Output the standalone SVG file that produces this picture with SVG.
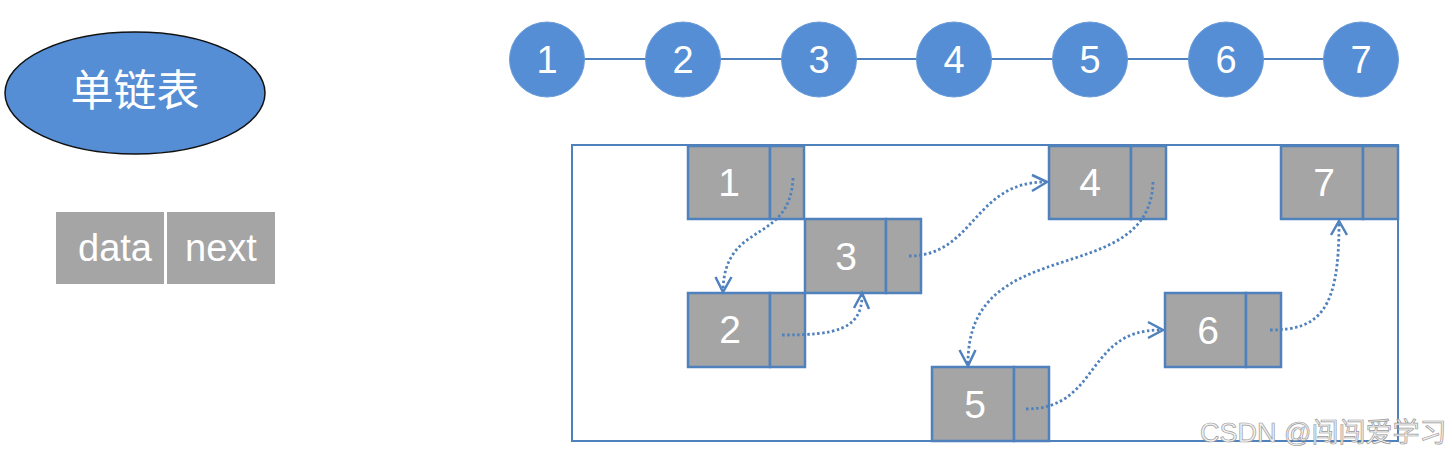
<svg xmlns="http://www.w3.org/2000/svg" width="1452" height="459" viewBox="0 0 1452 459">
<style>
.t{font-family:"Liberation Sans","Noto Sans CJK SC",Arial,sans-serif;fill:#fff;text-anchor:middle}
.circ{fill:#558ED5;stroke:#6A9BD8;stroke-width:1}
.cell{fill:#A5A5A5;stroke:#4F81BD;stroke-width:2.5}
.link{fill:none;stroke:#4F81BD;stroke-width:2.8;stroke-dasharray:2.5 2.5}
.solid{fill:none;stroke:#4F81BD;stroke-width:2}
.head{fill:none;stroke:#4F81BD;stroke-width:2.5;stroke-linejoin:miter}
</style>
<rect width="1452" height="459" fill="#fff"/>

<g id="title">
<ellipse cx="135" cy="93" rx="130" ry="61" fill="#558ED5" stroke="#111" stroke-width="1.5"/>
<text class="t" x="135" y="106" font-size="43">单链表</text>
</g>

<g id="legend">
<rect x="56" y="212" width="108" height="72" fill="#A5A5A5"/>
<rect x="167" y="212" width="108" height="72" fill="#A5A5A5"/>
<text class="t" x="115" y="261" font-size="38">data</text>
<text class="t" x="221" y="261" font-size="38">next</text>
</g>

<g id="chain-lines">
<line class="solid" x1="547" y1="59" x2="1361" y2="59"/>
</g>
<g id="c1"><circle class="circ" cx="547" cy="59.5" r="37.5"/><text class="t" x="547" y="73" font-size="38">1</text></g>
<g id="c2"><circle class="circ" cx="683" cy="59.5" r="37.5"/><text class="t" x="683" y="73" font-size="38">2</text></g>
<g id="c3"><circle class="circ" cx="819" cy="59.5" r="37.5"/><text class="t" x="819" y="73" font-size="38">3</text></g>
<g id="c4"><circle class="circ" cx="954" cy="59.5" r="37.5"/><text class="t" x="954" y="73" font-size="38">4</text></g>
<g id="c5"><circle class="circ" cx="1090" cy="59.5" r="37.5"/><text class="t" x="1090" y="73" font-size="38">5</text></g>
<g id="c6"><circle class="circ" cx="1226" cy="59.5" r="37.5"/><text class="t" x="1226" y="73" font-size="38">6</text></g>
<g id="c7"><circle class="circ" cx="1361" cy="59.5" r="37.5"/><text class="t" x="1361" y="73" font-size="38">7</text></g>

<g id="container">
<rect x="572" y="145" width="826" height="296" fill="none" stroke="#4F81BD" stroke-width="2"/>
</g>

<g id="n1"><rect class="cell" x="688" y="146" width="82" height="73"/><rect class="cell" x="770" y="146" width="34" height="73"/><text class="t" x="729" y="196" font-size="39">1</text></g>
<g id="n2"><rect class="cell" x="688" y="293" width="82" height="74"/><rect class="cell" x="770" y="293" width="35" height="74"/><text class="t" x="730" y="343" font-size="39">2</text></g>
<g id="n3"><rect class="cell" x="805" y="219" width="81" height="74"/><rect class="cell" x="886" y="219" width="35" height="74"/><text class="t" x="846" y="270" font-size="39">3</text></g>
<g id="n4"><rect class="cell" x="1049" y="146" width="82" height="73"/><rect class="cell" x="1131" y="146" width="35" height="73"/><text class="t" x="1090" y="196" font-size="39">4</text></g>
<g id="n5"><rect class="cell" x="932" y="367" width="82" height="74"/><rect class="cell" x="1014" y="367" width="35" height="74"/><text class="t" x="975" y="418" font-size="39">5</text></g>
<g id="n6"><rect class="cell" x="1165" y="293" width="81" height="74"/><rect class="cell" x="1246" y="293" width="35" height="74"/><text class="t" x="1208" y="344" font-size="39">6</text></g>
<g id="n7"><rect class="cell" x="1281" y="146" width="82" height="73"/><rect class="cell" x="1363" y="146" width="35" height="73"/><text class="t" x="1324" y="196" font-size="39">7</text></g>

<g id="connectors">
<path class="link" d="M793,178 C790,245 725,220 723,290"/>
<polyline class="head" points="715.5,277 723,292 731.5,277"/>
<path class="link" d="M782,335 C835,335 862,330 862,295"/>
<polyline class="head" points="854,308 862,293 869,309"/>
<path class="link" d="M909,256 C974,256 974,182 1045,182"/>
<polyline class="head" points="1032,175 1047,182 1032,191"/>
<path class="link" d="M1153,182 C1150,290 968,230 968,363"/>
<polyline class="head" points="959.5,350 968,366 975.5,350"/>
<path class="link" d="M1026,409 C1100,409 1085,330 1160,330"/>
<polyline class="head" points="1148,322 1163,330 1148,338"/>
<path class="link" d="M1270,330 C1320,330 1339,310 1339,224"/>
<polyline class="head" points="1331,235 1339,221 1347,235"/>
</g>

<g id="watermark">
<text x="1200" y="442" font-size="27" font-family="Liberation Sans, Noto Sans CJK SC, sans-serif" fill="#f2f2f2" stroke="#9a9a9a" stroke-width="0.7">CSDN @闯闯爱学习</text>
</g>
</svg>
